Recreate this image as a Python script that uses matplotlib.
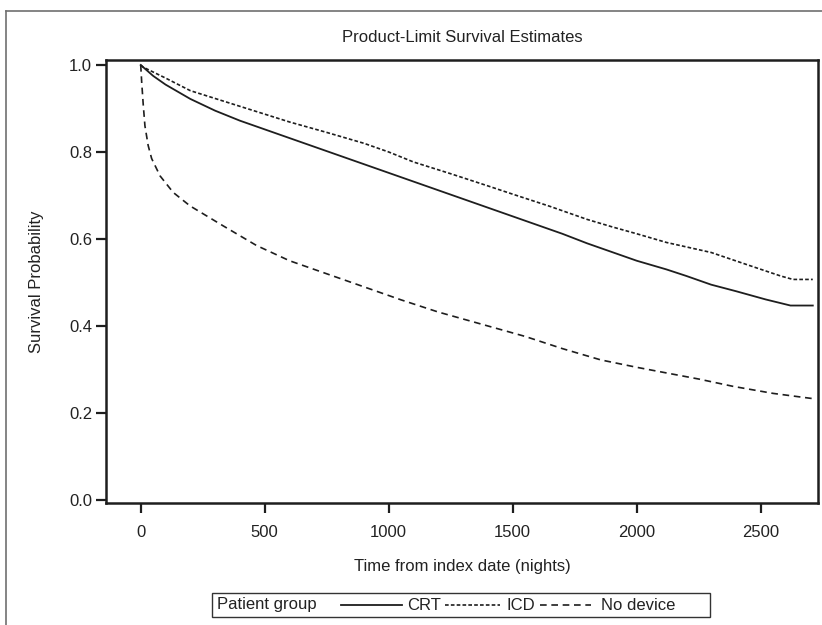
import matplotlib
matplotlib.use("Agg")
import matplotlib.pyplot as plt
from matplotlib.lines import Line2D
from matplotlib.patches import Rectangle

plt.rcParams['font.family'] = ['Liberation Sans', 'DejaVu Sans']

# ---- data ----
crt_t = [0, 10, 50, 100, 200, 300, 400, 500, 600, 700, 800, 900, 1000, 1100, 1200,
         1300, 1400, 1500, 1600, 1700, 1800, 1900, 2000, 2120, 2200, 2300, 2400,
         2520, 2620, 2710]
crt_s = [1.0, 0.995, 0.975, 0.955, 0.922, 0.895, 0.872, 0.852, 0.832, 0.812, 0.792,
         0.772, 0.752, 0.732, 0.712, 0.692, 0.672, 0.652, 0.632, 0.612, 0.59, 0.57,
         0.55, 0.53, 0.515, 0.495, 0.48, 0.461, 0.447, 0.447]

icd_t = [0, 10, 100, 200, 400, 600, 750, 900, 1000, 1100, 1250, 1400, 1500,
         1650, 1800, 1900, 2000, 2120, 2300, 2460, 2580, 2630, 2710]
icd_s = [1.0, 0.995, 0.97, 0.941, 0.905, 0.869, 0.845, 0.82, 0.80, 0.777, 0.75,
         0.722, 0.703, 0.675, 0.645, 0.628, 0.612, 0.592, 0.569, 0.538, 0.515, 0.507,
         0.507]

nod_t = [0, 2, 4, 10, 17, 30, 44, 78, 131, 199, 333, 467, 600, 750, 900, 1050,
         1200, 1400, 1550, 1700, 1855, 2000, 2120, 2250, 2390, 2550, 2710]
nod_s = [1.0, 0.98, 0.96, 0.91, 0.86, 0.815, 0.785, 0.745, 0.707, 0.676, 0.63, 0.585,
         0.55, 0.52, 0.49, 0.46, 0.432, 0.40, 0.376, 0.348, 0.322, 0.305, 0.292, 0.278,
         0.261, 0.245, 0.233]

groups = ["CRT", "ICD", "No device"]
xticks = [0, 500, 1000, 1500, 2000, 2500]
yticks = [0.0, 0.2, 0.4, 0.6, 0.8, 1.0]

W, H = 822, 625
fig = plt.figure(figsize=(W / 100, H / 100), dpi=100)

def px(x0, y0, x1, y1):
    return [x0 / W, 1 - y1 / H, (x1 - x0) / W, (y1 - y0) / H]

ax = fig.add_axes(px(106, 60, 818, 503))

col = "#1e1e1e"
tcol = "#222222"
fs = 12
styles = {
    "CRT": dict(color=col, lw=1.3, ls="-"),
    "ICD": dict(color=col, lw=1.2, ls=(0, (2.2, 1.3))),
    "No device": dict(color=col, lw=1.2, ls=(0, (4.0, 2.8))),
}
for name, t, s in zip(groups, [crt_t, icd_t, nod_t], [crt_s, icd_s, nod_s]):
    ax.plot(t, s, **styles[name])

ax.set_xlim(-140, 2731)
ax.set_ylim(-0.007, 1.0115)
ax.set_xticks(xticks)
ax.set_xticklabels([str(v) for v in xticks])
ax.set_yticks(yticks)
ax.set_yticklabels([f"{v:.1f}" for v in yticks])
ax.tick_params(axis="both", direction="out", length=7, width=1.6, colors=col,
               labelsize=fs, labelcolor=tcol)
ax.tick_params(axis="x", pad=9)
ax.tick_params(axis="y", pad=3)
for sp in ax.spines.values():
    sp.set_linewidth(1.8)
    sp.set_color(col)

fig.text(462 / W, 1 - 37 / H, "Product-Limit Survival Estimates", ha="center",
         va="center", fontsize=fs, color=tcol)
fig.text(462 / W, 1 - 567 / H, "Time from index date (nights)", ha="center",
         va="center", fontsize=fs, color=tcol)
fig.text(37 / W, 1 - 282 / H, "Survival Probability", ha="center", va="center",
         rotation=90, fontsize=fs, color=tcol)

# outer frame
fig.add_artist(Line2D([6 / W, 6 / W], [0, 1 - 11 / H], transform=fig.transFigure,
                      color="#707070", lw=1.2))
fig.add_artist(Line2D([6 / W, 1], [1 - 11 / H, 1 - 11 / H], transform=fig.transFigure,
                      color="#707070", lw=1.2))

# legend box
fig.add_artist(Rectangle((212 / W, 1 - 617 / H), (710 - 212) / W, (617 - 593) / H,
                         transform=fig.transFigure, fill=False, edgecolor="#333333",
                         lw=1.0))
ly = 1 - 605 / H
fig.text(217 / W, ly, "Patient group", ha="left", va="center", fontsize=fs,
         color=tcol)
leg_items = [("CRT", 341, 402, 407), ("ICD", 445, 500, 506), ("No device", 540, 591, 601)]
for name, x0, x1, tx in leg_items:
    st = styles[name]
    fig.add_artist(Line2D([x0 / W, x1 / W], [ly, ly], transform=fig.transFigure,
                          color=st["color"], lw=st["lw"], ls=st["ls"]))
    fig.text(tx / W, ly, name, ha="left", va="center", fontsize=fs, color=tcol)

fig.savefig("out.png", dpi=100)
